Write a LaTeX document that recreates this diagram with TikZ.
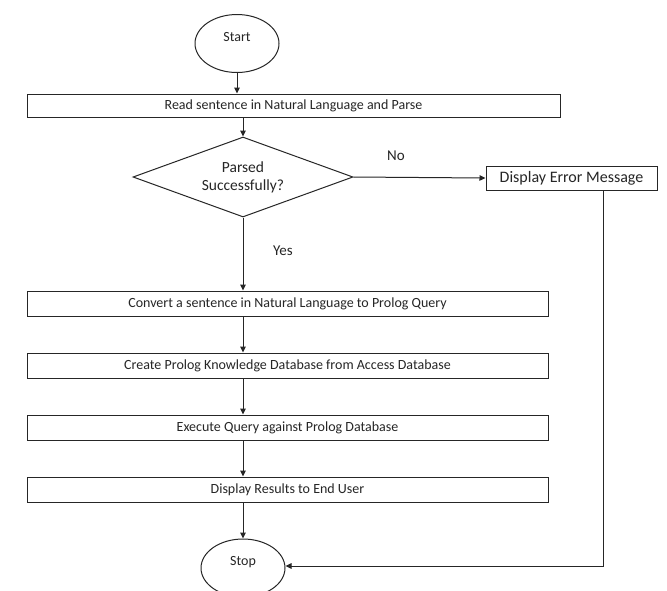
\documentclass[tikz,border=0pt]{standalone}
\usepackage{fontspec}
\setmainfont{Carlito}
\usetikzlibrary{shapes.geometric,arrows.meta}
\begin{document}
\begin{tikzpicture}[x=1pt,y=-1pt,
  font=\fontsize{14}{16}\selectfont,
  every node/.style={text=black!85},
  line/.style={draw=black!85, line width=1pt},
  flow/.style={line, -{Triangle[length=6pt,width=5.5pt]}},
  stepbox/.style={line, rectangle, inner sep=0pt},
  terminal/.style={line, ellipse, minimum width=84pt, minimum height=58pt,
    inner sep=0pt, text height=9pt, text depth=14pt},
  decision/.style={line, diamond, shape aspect=2.75, minimum width=220pt,
    minimum height=80pt, inner sep=0pt, align=center,
    font=\fontsize{15.5}{18}\selectfont},
  tag/.style={inner sep=0pt, font=\fontsize{15}{17}\selectfont}
]
\clip (0,0) rectangle (667,590);
\fill[white] (0,0) rectangle (667,590);

% terminals
\node[terminal] (start) at (237,43.5) {Start};
\node[terminal] (stop) at (243,568) {Stop};

% process boxes
\node[stepbox, minimum width=533pt, minimum height=23pt] (read) at (293.5,105.5)
  {Read sentence in Natural Language and Parse};
\node[decision] (parsed) at (243,177) {Parsed\\Successfully?};
\node[stepbox, minimum width=171pt, minimum height=24pt,
  font=\fontsize{16}{18}\selectfont] (error) at (571.5,178)
  {Display Error Message};
\node[stepbox, minimum width=521pt, minimum height=25pt] (convert) at (287.5,303.5)
  {Convert a sentence in Natural Language to Prolog Query};
\node[stepbox, minimum width=521pt, minimum height=25pt] (create) at (287.5,365.5)
  {Create Prolog Knowledge Database from Access Database};
\node[stepbox, minimum width=521pt, minimum height=25pt] (execute) at (287.5,427.5)
  {Execute Query against Prolog Database};
\node[stepbox, minimum width=521pt, minimum height=25pt] (results) at (287.5,489.5)
  {Display Results to End User};

% connectors
\draw[flow] (start.south) -- (start.south |- read.north);
\draw[flow] (parsed.north |- read.south) -- (parsed.north);
\draw[flow] (parsed.east) -- (error.west);
\draw[flow] (parsed.south) -- (parsed.south |- convert.north);
\draw[flow] (parsed.south |- convert.south) -- (parsed.south |- create.north);
\draw[flow] (parsed.south |- create.south) -- (parsed.south |- execute.north);
\draw[flow] (parsed.south |- execute.south) -- (parsed.south |- results.north);
\draw[flow] (parsed.south |- results.south) -- (stop.north);
\coordinate (bend) at (603,566);
\draw[flow] (error.south -| bend) -- (bend) -- (stop.east |- bend);

% branch labels
\node[tag] (no) at (396,156) {No};
\node[tag] (yes) at (283,251) {Yes};
\end{tikzpicture}
\end{document}
